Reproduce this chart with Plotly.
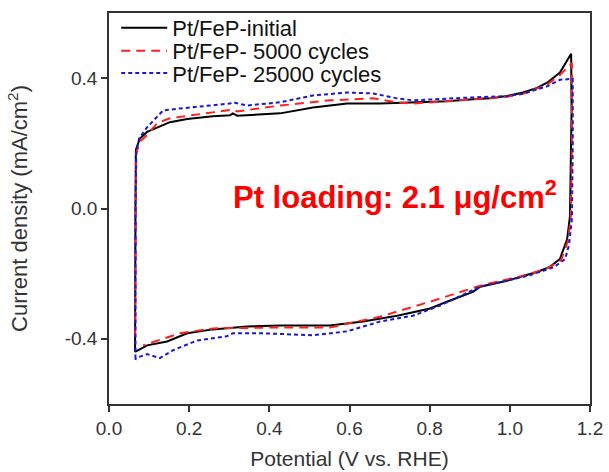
import plotly.graph_objects as go

# Pt/FeP-initial (black, solid): closed CV loop
init_x = [0.065, 0.065, 0.066, 0.067, 0.077, 0.095, 0.120, 0.152, 0.195, 0.259, 0.302, 0.309, 0.320,
          0.427, 0.509, 0.594, 0.676, 0.758, 0.843, 0.908, 0.951, 0.993, 1.033, 1.068, 1.093, 1.125, 1.153,
          1.154, 1.152, 1.150, 1.143, 1.125, 1.100, 1.068, 1.050, 0.993, 0.926, 0.908, 0.843, 0.801,
          0.719, 0.634, 0.551, 0.427, 0.344, 0.259, 0.195, 0.145, 0.095, 0.065]
init_y = [-0.440, -0.380, 0.000, 0.180, 0.215, 0.235, 0.249, 0.265, 0.275, 0.283, 0.286, 0.292, 0.285,
          0.292, 0.310, 0.322, 0.322, 0.326, 0.329, 0.335, 0.338, 0.345, 0.356, 0.370, 0.386, 0.417, 0.475,
          0.300, 0.100, -0.024, -0.094, -0.155, -0.179, -0.195, -0.201, -0.222, -0.240, -0.256, -0.286, -0.307,
          -0.329, -0.347, -0.359, -0.359, -0.362, -0.371, -0.383, -0.408, -0.420, -0.440]

# Pt/FeP- 5000 cycles (red, dashed)
c5k_x = [0.065, 0.066, 0.068, 0.077, 0.095, 0.120, 0.152, 0.259, 0.309, 0.320, 0.427, 0.551, 0.659,
         0.719, 0.758, 0.908, 0.993, 1.033, 1.093, 1.125, 1.155,
         1.155, 1.152, 1.145, 1.128, 1.100, 1.050, 0.926, 0.801, 0.676, 0.551, 0.427, 0.259, 0.177, 0.085]
c5k_y = [-0.390, 0.000, 0.170, 0.205, 0.225, 0.262, 0.277, 0.295, 0.304, 0.298, 0.316, 0.332, 0.338,
         0.326, 0.322, 0.335, 0.343, 0.352, 0.380, 0.410, 0.447,
         0.200, -0.030, -0.100, -0.158, -0.180, -0.201, -0.237, -0.286, -0.332, -0.365, -0.365, -0.368, -0.383, -0.420]

# Pt/FeP- 25000 cycles (blue, dotted)
c25k_x = [0.066, 0.066, 0.068, 0.075, 0.095, 0.135, 0.177, 0.302, 0.309, 0.344, 0.427, 0.509, 0.594,
          0.659, 0.719, 0.758, 0.908, 0.993, 1.033, 1.093, 1.125, 1.157,
          1.157, 1.155, 1.148, 1.138, 1.110, 1.050, 0.926, 0.826, 0.758, 0.676, 0.594, 0.509, 0.384,
          0.309, 0.294, 0.220, 0.160, 0.127, 0.095, 0.067, 0.066]
c25k_y = [-0.460, 0.000, 0.170, 0.215, 0.249, 0.301, 0.307, 0.322, 0.326, 0.316, 0.326, 0.347, 0.356,
          0.353, 0.338, 0.332, 0.341, 0.345, 0.352, 0.375, 0.395, 0.398,
          0.200, -0.030, -0.110, -0.155, -0.180, -0.205, -0.240, -0.298, -0.329, -0.347, -0.377, -0.389, -0.383,
          -0.383, -0.392, -0.405, -0.435, -0.459, -0.447, -0.459, -0.465]

x_ticks = [0.0, 0.2, 0.4, 0.6, 0.8, 1.0, 1.2]
y_ticks = [-0.4, 0.0, 0.4]

font_family = "Arial, Liberation Sans, sans-serif"
axis_col = "#333333"

fig = go.Figure()
fig.add_trace(go.Scatter(x=init_x, y=init_y, mode="lines", name="Pt/FeP-initial", legend="legend",
                         line=dict(color="black", width=2)))
fig.add_trace(go.Scatter(x=c5k_x, y=c5k_y, mode="lines", name="Pt/FeP- 5000 cycles", legend="legend2",
                         line=dict(color="#ff2020", width=2, dash="9px,6px")))
fig.add_trace(go.Scatter(x=c25k_x, y=c25k_y, mode="lines", name="Pt/FeP- 25000 cycles", legend="legend3",
                         line=dict(color="#1a1acc", width=2, dash="4px,3px")))

fig.add_annotation(x=0.714, y=0.04, xref="x", yref="y",
                   text="<b>Pt loading: 2.1 μg/cm<sup>2</sup></b>", showarrow=False,
                   font=dict(family=font_family, size=31, color="#ff0000"))

leg_common = dict(x=0.015, xanchor="left", yanchor="middle", bgcolor="rgba(0,0,0,0)",
                  font=dict(size=22, color="#111111"), itemwidth=46)

fig.update_layout(
    width=609, height=472,
    margin=dict(l=109, r=19, t=13, b=68, autoexpand=False),
    paper_bgcolor="white", plot_bgcolor="white",
    font=dict(family=font_family, size=19, color="#333333"),
    showlegend=True,
    legend=dict(y=0.962, **leg_common),
    legend2=dict(y=0.903, **leg_common),
    legend3=dict(y=0.846, **leg_common),
)
fig.update_xaxes(range=[0, 1.2], tickvals=x_ticks, ticktext=[f"{v:.1f}" for v in x_ticks],
                 showline=True, linecolor=axis_col, linewidth=1.5, mirror=True,
                 ticks="outside", ticklen=6, tickwidth=1.5, tickcolor=axis_col,
                 showgrid=False, zeroline=False, automargin=False,
                 title=dict(text="Potential (V vs. RHE)", standoff=14, font=dict(size=21)))
fig.update_yaxes(range=[-0.6, 0.6], tickvals=y_ticks, ticktext=[f"{v:.1f}" for v in y_ticks],
                 showline=True, linecolor=axis_col, linewidth=1.5, mirror=True,
                 ticks="outside", ticklen=6, tickwidth=1.5, tickcolor=axis_col,
                 showgrid=False, zeroline=False, automargin=False,
                 title=dict(text="Current density (mA/cm<sup>2</sup>)", standoff=31, font=dict(size=22)))

fig.write_html("out.html")
